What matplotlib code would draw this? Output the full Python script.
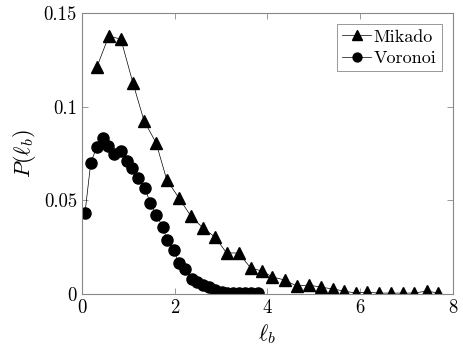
import numpy as np
import matplotlib
matplotlib.use("Agg")
import matplotlib.pyplot as plt

plt.rcParams['font.family'] = 'serif'
plt.rcParams['font.serif'] = ['cmr10']
plt.rcParams['mathtext.fontset'] = 'cm'
plt.rcParams['axes.unicode_minus'] = False

# Mikado segment length distribution
mikado_x = np.array([0.32, 0.58, 0.84, 1.10, 1.34, 1.60, 1.83, 2.09, 2.35, 2.61,
                     2.87, 3.12, 3.38, 3.64, 3.88, 4.11, 4.37, 4.63, 4.89, 5.15,
                     5.41, 5.65, 5.91, 6.14, 6.40, 6.66, 6.92, 7.16, 7.44, 7.69])
mikado_p = np.array([0.121, 0.1377, 0.136, 0.1126, 0.0924, 0.0806, 0.0609, 0.0513, 0.0416, 0.0352,
                     0.0304, 0.0219, 0.0219, 0.0139, 0.0123, 0.0091, 0.0075, 0.0043, 0.0048, 0.0037,
                     0.0027, 0.0016, 0.0005, 0.0010, 0.0005, 0.0005, 0.0005, 0.0005, 0.0016, 0.0005])

# Voronoi segment length distribution
voronoi_x = np.array([0.065, 0.19, 0.32, 0.45, 0.56, 0.69, 0.84, 0.97, 1.08, 1.21,
                      1.36, 1.47, 1.60, 1.75, 1.83, 1.98, 2.09, 2.22, 2.37, 2.48,
                      2.61, 2.74, 2.87, 3.02, 3.12, 3.25, 3.38, 3.51, 3.64, 3.79])
voronoi_p = np.array([0.0432, 0.070, 0.0785, 0.0833, 0.079, 0.0745, 0.0763, 0.071, 0.0673, 0.062,
                      0.0566, 0.0486, 0.042, 0.0358, 0.0288, 0.0235, 0.0166, 0.0133, 0.008, 0.0064,
                      0.0048, 0.0037, 0.0021, 0.0010, 0.0008, 0.0005, 0.0003, 0.0003, 0.0003, 0.0003])

xticks = [0, 2, 4, 6, 8]
yticks = [0, 0.05, 0.1, 0.15]
yticklabels = ['0', '0.05', '0.1', '0.15']

fig = plt.figure(figsize=(4.63, 3.59), dpi=100)
ax = fig.add_axes([0.177, 0.181, 0.801, 0.783])

ax.plot(mikado_x, mikado_p, '-^', color='k', lw=0.5, ms=8.5, label='Mikado')
ax.plot(voronoi_x, voronoi_p, '-o', color='k', lw=0.5, ms=8, label='Voronoi')

ax.set_xlim(0, 8)
ax.set_ylim(0, 0.15)
ax.set_xticks(xticks)
ax.set_xticklabels([str(t) for t in xticks])
ax.set_yticks(yticks)
ax.set_yticklabels(yticklabels)
ax.tick_params(direction='in', top=True, right=True, length=4, width=0.6,
               color='#888888', labelsize=13.5)
for s in ax.spines.values():
    s.set_color('#888888')
    s.set_linewidth(0.8)

ax.set_xlabel(r'$\ell_b$', fontsize=16)
ax.set_ylabel(r'$P(\ell_b)$', fontsize=16, labelpad=4)

leg = ax.legend(loc='upper right', fontsize=13, fancybox=False, framealpha=1,
                edgecolor='#888888', handlelength=1.6, handletextpad=0.15,
                borderpad=0.3, labelspacing=0.3, borderaxespad=0.6,
                markerscale=0.8)
leg.get_frame().set_linewidth(0.6)

fig.savefig('out.png', dpi=100)
